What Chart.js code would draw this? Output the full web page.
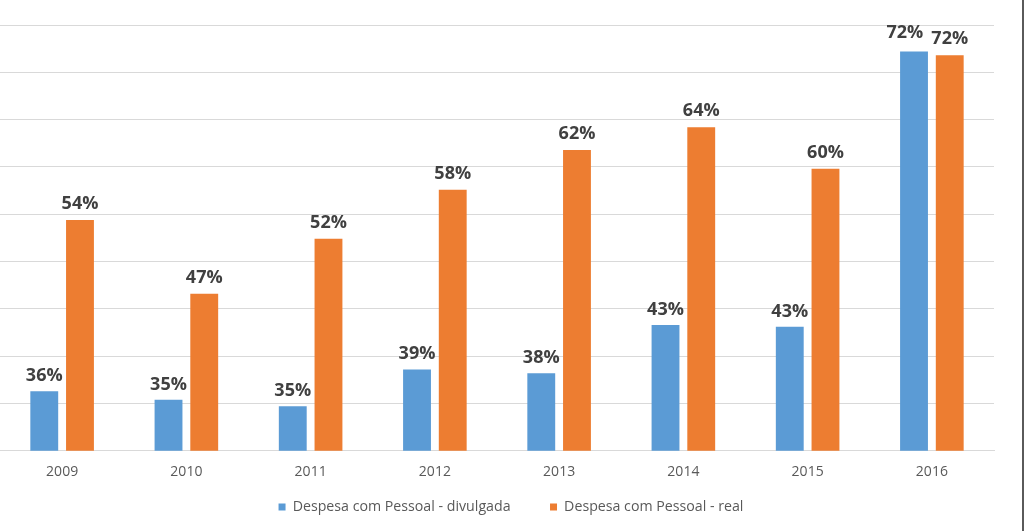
<!DOCTYPE html>
<html>
<head>
<meta charset="utf-8">
<script src="https://cdn.jsdelivr.net/npm/chart.js@4"></script>
<style>
  html, body { margin: 0; padding: 0; background: #fff; }
  #wrap { width: 1022px; height: 531px; border-right: 2px solid #5a5a5a; position: relative; }
</style>
</head>
<body>
<div id="wrap"><canvas id="myChart" width="1022" height="531"></canvas></div>
<script>
const years = ['2009', '2010', '2011', '2012', '2013', '2014', '2015', '2016'];
const divulgada = [36.3, 35.4, 34.7, 38.6, 38.2, 43.3, 43.1, 72.2];
const real = [54.4, 46.6, 52.4, 57.6, 61.8, 64.2, 59.8, 71.8];
const labelsDivulgada = ['36%', '35%', '35%', '39%', '38%', '43%', '43%', '72%'];
const labelsReal = ['54%', '47%', '52%', '58%', '62%', '64%', '60%', '72%'];

const blue = '#5B9BD5';
const orange = '#ED7D31';

// draw value labels on top of the bars, nudging the left one if they collide
const barLabels = {
  id: 'barLabels',
  afterDatasetsDraw(chart) {
    const ctx = chart.ctx;
    const texts = [labelsDivulgada, labelsReal];
    ctx.save();
    ctx.font = 'bold 18px "Open Sans"';
    ctx.fillStyle = '#404040';
    ctx.textAlign = 'center';
    ctx.textBaseline = 'alphabetic';
    const m0 = chart.getDatasetMeta(0).data;
    const m1 = chart.getDatasetMeta(1).data;
    for (let i = 0; i < years.length; i++) {
      let a = { x: m0[i].x, y: m0[i].y - 10, t: texts[0][i] };
      let b = { x: m1[i].x, y: m1[i].y - 11, t: texts[1][i] };
      const wa = ctx.measureText(a.t).width;
      const wb = ctx.measureText(b.t).width;
      if (Math.abs(a.y - b.y) < 18 && a.x + wa / 2 + 8 > b.x - wb / 2) {
        a.x = b.x - wb / 2 - 8 - wa / 2;
        a.y -= 3;
      }
      ctx.fillText(a.t, a.x, a.y);
      ctx.fillText(b.t, b.x, b.y);
    }
    ctx.restore();
  }
};

var ctx = document.getElementById('myChart').getContext('2d');
var myChart = new Chart(ctx, {
  type: 'bar',
  data: {
    labels: years,
    datasets: [{
      label: 'Despesa com Pessoal - divulgada',
      data: divulgada,
      backgroundColor: blue,
      barPercentage: 0.78,
      categoryPercentage: 0.575
    }, {
      label: 'Despesa com Pessoal - real',
      data: real,
      backgroundColor: orange,
      barPercentage: 0.78,
      categoryPercentage: 0.575
    }]
  },
  options: {
    responsive: false,
    animation: false,
    layout: { padding: { left: 0, right: 0, top: 25, bottom: 7 } },
    plugins: {
      tooltip: { enabled: false },
      legend: {
        position: 'bottom',
        labels: {
          boxWidth: 7,
          boxHeight: 7,
          padding: 10,
          color: '#595959',
          font: { family: 'Open Sans', size: 14.2 },
          // wider gap after the first item (padding would also grow the height)
          generateLabels: (chart) => {
            const items = Chart.defaults.plugins.legend.labels.generateLabels(chart);
            items[0].text += '        ';
            return items;
          }
        }
      }
    },
    scales: {
      x: {
        grid: { display: false },
        border: { color: '#d9d9d9' },
        ticks: { color: '#595959', font: { family: 'Open Sans', size: 14 }, padding: 5 },
        afterFit: (s) => { s.height = 39; }
      },
      y: {
        min: 30,
        max: 75,
        ticks: { display: false, stepSize: 5 },
        border: { display: false },
        grid: { color: '#d9d9d9', drawTicks: false }
      },
      // empty axis on the right, only to leave the margin before the border
      yRight: {
        position: 'right',
        grid: { display: false },
        border: { display: false },
        ticks: { display: false },
        afterFit: (s) => { s.width = 28; }
      }
    }
  },
  plugins: [barLabels]
});
</script>
</body>
</html>
